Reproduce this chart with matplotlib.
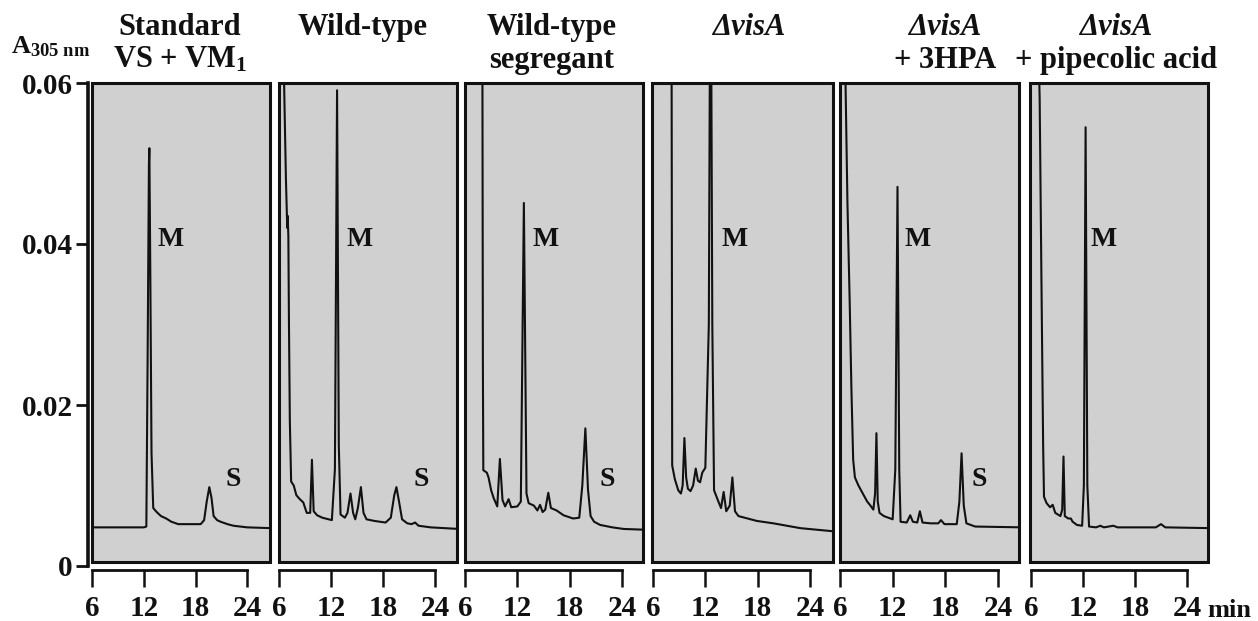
import matplotlib
matplotlib.use("Agg")
import matplotlib.pyplot as plt
from matplotlib.patches import Rectangle

plt.rcParams['font.family'] = ['Liberation Serif', 'DejaVu Serif']
plt.rcParams['font.weight'] = 'bold'
plt.rcParams['mathtext.fontset'] = 'custom'
plt.rcParams['mathtext.rm'] = 'Liberation Serif:bold'
plt.rcParams['mathtext.it'] = 'Liberation Serif:bold:italic'
plt.rcParams['mathtext.bf'] = 'Liberation Serif:bold'

# ---------------- data (retention time, min ; absorbance at 305 nm) ----------------
titles = [["Standard", "VS + VM$_1$"],
          ["Wild-type"],
          ["Wild-type", "segregant"],
          ["\u0394visA"],
          ["\u0394visA", "+ 3HPA"],
          ["\u0394visA", "+ pipecolic acid"]]
title_italic_first = [False, False, False, True, True, True]

x_ticks = [6, 12, 18, 24]
y_ticks = [0, 0.02, 0.04, 0.06]
y_ticklabels = ["0", "0.02", "0.04", "0.06"]

t_standard = [6.0, 8.0, 10.0, 12.0, 12.3, 12.45, 12.6, 12.65, 12.75, 12.9, 13.1, 13.5, 14.0,
              14.6, 15.2, 16.0, 17.5, 18.6, 19.0, 19.3, 19.6, 19.85, 20.1, 20.5, 20.9, 21.7,
              22.4, 24.0, 26.8]
a_standard = [0.0048, 0.0048, 0.0048, 0.0048, 0.0049, 0.026, 0.050, 0.0519, 0.038, 0.014,
              0.0072, 0.0067, 0.0062, 0.0059, 0.0055, 0.0052, 0.0052, 0.0052, 0.0057, 0.0080,
              0.0098, 0.0085, 0.0062, 0.0057, 0.0055, 0.0052, 0.0050, 0.0048, 0.0047]

t_wildtype = [6.0, 6.5, 6.8, 6.95, 7.0, 7.08, 7.15, 7.25, 7.4, 7.7, 8.0, 8.4, 8.8, 9.2, 9.6,
              9.8, 10.0, 10.4, 11.0, 12.1, 12.45, 12.7, 12.9, 13.1, 13.6, 13.9, 14.25, 14.55,
              14.8, 15.1, 15.45, 15.75, 16.1, 17.0, 18.3, 18.9, 19.3, 19.55, 19.85, 20.2, 20.8,
              21.3, 21.7, 22.1, 23.5, 26.8]
a_wildtype = [0.085, 0.065, 0.048, 0.042, 0.0435, 0.041, 0.030, 0.018, 0.0105, 0.0100, 0.0088,
              0.0083, 0.0079, 0.0066, 0.0066, 0.0132, 0.0068, 0.0063, 0.0060, 0.0057, 0.012,
              0.0591, 0.015, 0.0064, 0.0060, 0.0066, 0.0090, 0.0066, 0.0058, 0.0072, 0.0098,
              0.0066, 0.0058, 0.0056, 0.0054, 0.0060, 0.0088, 0.0098, 0.0080, 0.0058, 0.0053,
              0.0052, 0.0054, 0.0050, 0.0048, 0.0046]

t_segregant = [6.0, 7.95, 8.0, 8.05, 8.1, 8.5, 8.7, 9.0, 9.3, 9.7, 10.0, 10.3, 10.6, 11.0,
               11.3, 12.0, 12.4, 12.75, 13.05, 13.3, 13.9, 14.3, 14.6, 14.9, 15.2, 15.55, 15.85,
               16.5, 17.3, 18.4, 19.1, 19.45, 19.8, 20.1, 20.4, 20.8, 21.5, 22.9, 24.2, 26.8]
a_segregant = [0.085, 0.085, 0.06, 0.025, 0.0119, 0.0116, 0.0110, 0.0094, 0.0084, 0.0074,
               0.0133, 0.0082, 0.0074, 0.0083, 0.0073, 0.0074, 0.0080, 0.0451, 0.0090, 0.0078,
               0.0075, 0.0069, 0.0076, 0.0067, 0.0070, 0.0091, 0.0072, 0.0069, 0.0063, 0.0059,
               0.0060, 0.0100, 0.0171, 0.0095, 0.0062, 0.0055, 0.0051, 0.0048, 0.0046, 0.0045]

t_visA = [6.0, 8.1, 8.15, 8.2, 8.5, 8.9, 9.2, 9.4, 9.6, 9.8, 10.0, 10.3, 10.6, 10.9, 11.15,
          11.4, 11.65, 12.0, 12.4, 12.6, 12.8, 13.0, 13.5, 13.8, 14.1, 14.4, 14.8, 15.1, 15.4,
          15.8, 16.5, 17.9, 19.8, 22.9, 26.8]
a_visA = [0.085, 0.085, 0.05, 0.0125, 0.0108, 0.0094, 0.0090, 0.0100, 0.0159, 0.0110, 0.0096,
          0.0093, 0.0100, 0.0121, 0.0106, 0.0104, 0.0116, 0.0122, 0.030, 0.085, 0.030, 0.0094,
          0.0080, 0.0072, 0.0092, 0.0068, 0.0075, 0.0110, 0.0068, 0.0062, 0.0060, 0.0056,
          0.0053, 0.0047, 0.0043]

t_3hpa = [6.0, 6.6, 6.85, 7.1, 7.3, 7.5, 7.7, 8.1, 8.4, 8.7, 9.1, 9.4, 9.8, 10.0, 10.15, 10.3,
          10.5, 11.0, 11.5, 12.0, 12.3, 12.55, 12.75, 12.9, 13.6, 14.0, 14.3, 14.8, 15.1, 15.4,
          16.3, 17.2, 17.5, 17.9, 19.3, 19.6, 19.85, 20.1, 20.4, 21.4, 26.8]
a_3hpa = [0.09, 0.062, 0.045, 0.033, 0.022, 0.0132, 0.0110, 0.0100, 0.0094, 0.0088, 0.0080,
          0.0076, 0.0070, 0.0090, 0.0165, 0.0080, 0.0066, 0.0062, 0.0060, 0.0058, 0.012, 0.0471,
          0.012, 0.0055, 0.0054, 0.0063, 0.0055, 0.0054, 0.0068, 0.0054, 0.0053, 0.0053,
          0.0057, 0.0052, 0.0052, 0.0080, 0.0140, 0.0075, 0.0053, 0.0049, 0.0048]

t_pipecolic = [6.0, 6.8, 7.0, 7.2, 7.4, 7.5, 7.8, 8.2, 8.5, 8.8, 9.4, 9.6, 9.75, 9.9, 10.3,
               10.6, 10.8, 11.3, 11.9, 12.1, 12.3, 12.5, 12.7, 13.5, 14.0, 14.4, 15.5, 16.0,
               20.4, 21.0, 21.5, 26.8]
a_pipecolic = [0.09, 0.068, 0.058, 0.036, 0.015, 0.0086, 0.0078, 0.0073, 0.0076, 0.0066,
               0.0062, 0.0070, 0.0136, 0.0062, 0.0059, 0.0059, 0.0055, 0.0051, 0.0050, 0.010,
               0.0545, 0.010, 0.0049, 0.0048, 0.0050, 0.0048, 0.0050, 0.0048, 0.0048, 0.0052,
               0.0048, 0.0047]

traces = [(t_standard, a_standard), (t_wildtype, a_wildtype), (t_segregant, a_segregant),
          (t_visA, a_visA), (t_3hpa, a_3hpa), (t_pipecolic, a_pipecolic)]

peak_labels = [[("M", 15.1, 0.0406), ("S", 22.4, 0.0108)],
               [("M", 15.3, 0.0406), ("S", 22.4, 0.0108)],
               [("M", 15.2, 0.0406), ("S", 22.3, 0.0108)],
               [("M", 15.3, 0.0406)],
               [("M", 14.8, 0.0406), ("S", 21.9, 0.0108)],
               [("M", 14.4, 0.0406)]]

# ---------------- layout (pixels of the 1258 x 621 canvas) ----------------
W, H = 1258, 621
fig = plt.figure(figsize=(W / 100, H / 100), dpi=100)
fig.patch.set_facecolor('white')

def fx(x):
    return x / W

def fy(y):
    return 1 - y / H

box_px = [(92, 270), (279, 457), (465, 643), (652, 833), (840, 1019), (1030, 1208)]
axis_px = [(90, 247), (279, 435), (465, 622), (653, 810), (840, 998), (1031, 1187)]
title_cx = [180, 363, 552, 749, 945, 1116]
box_top, box_bot, zero_px = 83, 562, 566
ymax = 0.06
ymin = (zero_px - box_bot) / (zero_px - box_top) * ymax

ink = '#111111'
fs = 20
fs_title = 22
fs_tick = 21

for i in range(6):
    l, r = box_px[i]
    x6, x24 = axis_px[i]
    rate = (x24 - x6) / 18.0
    xmin = 6 + (l - x6) / rate
    xmax = 6 + (r - x6) / rate
    ax = fig.add_axes([fx(l), fy(box_bot), (r - l) / W, (box_bot - box_top) / H])
    ax.set_xlim(xmin, xmax)
    ax.set_ylim(ymin, ymax)
    ax.set_facecolor('#d0d0d0')
    t, a = traces[i]
    ax.plot(t, a, color=ink, lw=1.5)
    ax.add_patch(Rectangle((0, 0), 1, 1, transform=ax.transAxes, fill=False,
                           lw=2.2, ec=ink, clip_on=False, zorder=5))
    for s in ['top', 'right', 'left']:
        ax.spines[s].set_visible(False)
    ax.spines['bottom'].set_position(('outward', 6))
    ax.spines['bottom'].set_bounds(6, 24)
    ax.spines['bottom'].set_linewidth(2.0)
    ax.spines['bottom'].set_color(ink)
    ax.set_xticks(x_ticks)
    ax.set_xticklabels([str(v) for v in x_ticks])
    ax.tick_params(axis='x', direction='out', length=12, width=1.8, pad=6,
                   labelsize=fs_tick, colors=ink)
    ax.set_yticks([])
    for lab, tx, ty in peak_labels[i]:
        ax.text(tx, ty, lab, ha='center', va='center', fontsize=fs, weight='bold', color=ink)
    # titles
    lines = titles[i]
    for j, line in enumerate(lines):
        style = 'italic' if (j == 0 and title_italic_first[i]) else 'normal'
        fig.text(fx(title_cx[i]), fy(35 + 33 * j), line, ha='center', va='baseline',
                 fontsize=fs_title, weight='bold', style=style, color=ink)

# y axis (left of first panel)
axy = fig.add_axes([fx(88), fy(zero_px), 0.0001, (zero_px - box_top) / H])
axy.set_ylim(0, ymax)
axy.set_facecolor('none')
for s in ['top', 'right', 'bottom']:
    axy.spines[s].set_visible(False)
axy.spines['left'].set_linewidth(2.6)
axy.spines['left'].set_color(ink)
axy.set_xticks([])
axy.set_yticks(y_ticks)
axy.set_yticklabels(y_ticklabels)
axy.tick_params(axis='y', direction='out', length=9, width=2, pad=2, labelsize=fs_tick,
                colors=ink)

fig.text(fx(11), fy(53), r'A$_{\mathrm{305\ nm}}$', ha='left', va='baseline',
         fontsize=19, weight='bold', color=ink)
fig.text(fx(1207), fy(617), 'min', ha='left', va='baseline', fontsize=19,
         weight='bold', color=ink)

fig.savefig('out.png', dpi=100)
